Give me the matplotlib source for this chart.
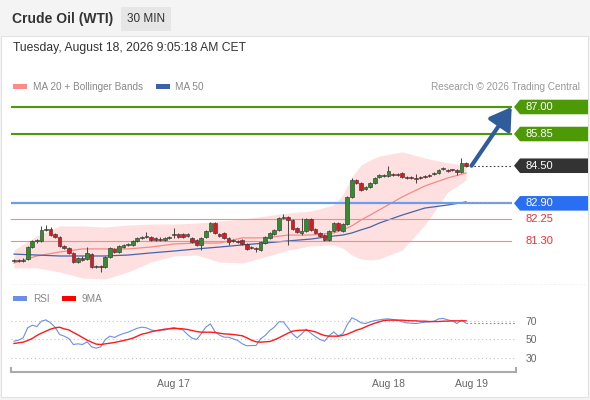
import numpy as np
import matplotlib.pyplot as plt
from matplotlib.patches import Rectangle, Polygon
from matplotlib.lines import Line2D

plt.rcParams['font.family'] = ['Liberation Sans', 'DejaVu Sans']

W, H = 590, 400

# 30 min candles, Crude Oil (WTI)
opens = [80.45, 80.49, 80.45, 80.53, 81.04, 81.30, 81.30, 81.77, 81.81, 81.60,
         81.47, 81.09, 81.00, 80.79, 80.40, 80.57, 80.53, 80.74, 80.19, 80.23,
         80.19, 80.62, 80.96, 80.83, 81.04, 81.13, 81.13, 81.30, 81.43, 81.47,
         81.47, 81.43, 81.38, 81.34, 81.43, 81.55, 81.60, 81.60, 81.51, 81.43,
         81.34, 81.13, 81.47, 81.72, 82.06, 81.60, 81.64, 81.43, 81.34, 81.30,
         81.34, 81.17, 81.00, 81.00, 80.91, 81.21, 81.43, 81.60, 81.77, 82.28,
         82.32, 82.19, 81.85, 81.64, 81.72, 82.23, 81.81, 81.64, 81.55, 81.34,
         81.72, 82.06, 81.72, 82.02, 83.17, 83.89, 83.77, 83.51, 83.60, 83.77,
         84.02, 84.06, 84.06, 84.15, 84.15, 84.19, 84.02, 84.02, 83.98, 84.02,
         84.06, 84.11, 84.15, 84.19, 84.36, 84.32, 84.32, 84.32, 84.23, 84.62]
closes = [80.49, 80.45, 80.49, 81.04, 81.30, 81.34, 81.77, 81.81, 81.55, 81.47,
          81.09, 81.00, 80.79, 80.40, 80.57, 80.49, 80.79, 80.19, 80.23, 80.19,
          80.62, 81.00, 80.83, 81.09, 81.13, 81.17, 81.30, 81.43, 81.47, 81.51,
          81.34, 81.34, 81.34, 81.43, 81.47, 81.60, 81.47, 81.47, 81.60, 81.26,
          81.13, 81.43, 81.72, 82.06, 81.64, 81.51, 81.43, 81.26, 81.30, 81.26,
          81.17, 80.96, 81.04, 80.96, 81.26, 81.47, 81.64, 81.77, 82.28, 82.32,
          82.19, 81.81, 81.68, 81.72, 82.23, 81.77, 81.64, 81.51, 81.34, 81.72,
          82.06, 81.77, 82.02, 83.17, 83.89, 83.77, 83.47, 83.60, 83.77, 83.98,
          84.11, 84.11, 84.28, 84.11, 84.11, 84.02, 83.98, 83.98, 83.94, 83.98,
          84.02, 84.06, 84.19, 84.32, 84.40, 84.28, 84.30, 84.23, 84.62, 84.50]
highs = [80.53, 80.53, 80.57, 81.09, 81.34, 81.38, 81.94, 81.98, 81.89, 81.64,
         81.51, 81.13, 81.04, 80.83, 80.62, 80.66, 81.04, 80.79, 80.28, 80.28,
         80.66, 81.04, 81.00, 81.13, 81.17, 81.21, 81.34, 81.47, 81.51, 81.68,
         81.51, 81.47, 81.47, 81.47, 81.51, 81.85, 81.64, 81.64, 81.64, 81.47,
         81.38, 81.47, 81.77, 82.11, 82.11, 81.64, 81.68, 81.47, 81.38, 81.34,
         81.38, 81.21, 81.09, 81.04, 81.30, 81.51, 81.68, 81.81, 82.32, 82.45,
         82.36, 82.23, 81.89, 82.28, 82.28, 82.28, 81.85, 81.68, 81.60, 81.77,
         82.11, 82.11, 82.06, 83.21, 83.98, 83.94, 83.81, 83.64, 83.81, 84.02,
         84.15, 84.15, 84.49, 84.19, 84.19, 84.23, 84.06, 84.06, 84.15, 84.06,
         84.11, 84.15, 84.23, 84.36, 84.45, 84.36, 84.36, 84.36, 84.83, 84.66]
lows = [80.40, 80.40, 80.40, 80.49, 81.00, 81.21, 81.26, 81.72, 81.51, 81.43,
        81.04, 80.96, 80.74, 80.36, 80.36, 80.45, 80.49, 80.15, 80.15, 79.98,
        80.15, 80.57, 80.79, 80.79, 81.00, 81.09, 81.09, 81.26, 81.38, 81.43,
        81.30, 81.30, 81.30, 81.30, 81.40, 81.43, 81.43, 81.43, 81.47, 81.21,
        81.09, 80.91, 81.43, 81.68, 81.60, 81.47, 81.38, 81.13, 81.26, 81.21,
        81.13, 80.91, 80.96, 80.83, 80.87, 81.17, 81.38, 81.55, 81.72, 82.23,
        81.13, 81.77, 81.64, 81.55, 81.68, 81.72, 81.60, 81.47, 81.30, 81.30,
        81.68, 81.72, 81.68, 81.98, 83.13, 83.72, 83.43, 83.47, 83.55, 83.72,
        83.98, 84.02, 84.02, 84.06, 84.06, 83.98, 83.94, 83.94, 83.77, 83.94,
        83.98, 84.02, 84.11, 84.15, 84.32, 84.23, 84.28, 84.11, 84.19, 84.45]

# MA 20 + Bollinger Bands and MA 50, read at these bar numbers
band_idx = [0, 5, 10, 15, 20, 25, 30, 35, 40, 45, 50, 55, 60, 65, 70, 72,
            74, 76, 78, 80, 85, 90, 95, 99]
bb_upper = [80.91, 81.51, 81.94, 81.94, 81.89, 81.98, 82.02, 82.02, 82.06, 82.15,
            82.23, 82.36, 82.49, 82.57, 82.83, 83.26, 84.02, 84.53, 84.74, 84.91,
            85.09, 84.83, 84.62, 84.53]
bb_lower = [80.15, 80.15, 79.98, 79.72, 79.68, 79.98, 80.40, 80.66, 80.70, 80.40,
            80.36, 80.62, 80.91, 81.09, 81.13, 81.00, 80.70, 80.53, 80.49, 80.53,
            80.91, 81.98, 83.38, 83.89]
ma20 = [80.36, 80.66, 80.83, 80.96, 80.96, 80.96, 81.04, 81.17, 81.21, 81.21,
        81.43, 81.43, 81.55, 81.55, 81.64, 81.77, 81.94, 82.19, 82.40, 82.62,
        83.17, 83.64, 83.98, 84.19]
ma50 = [80.74, 80.70, 80.66, 80.66, 80.66, 80.70, 80.79, 80.87, 80.96, 81.04,
        81.13, 81.21, 81.30, 81.38, 81.51, 81.55, 81.64, 81.77, 81.89, 82.06,
        82.40, 82.70, 82.83, 82.96]

rsi = [48.2, 49.3, 51.8, 62.6, 65.5, 64.0, 69.8, 71.2, 68.0, 63.3,
       55.4, 53.6, 51.1, 44.6, 45.3, 44.6, 47.5, 42.1, 40.6, 42.1,
       50.0, 53.6, 52.2, 54.7, 56.5, 57.9, 60.1, 62.2, 63.3, 62.6,
       60.4, 59.4, 60.4, 60.1, 61.9, 63.0, 61.5, 60.4, 55.4, 51.4,
       50.0, 56.1, 63.3, 66.9, 58.6, 54.7, 52.5, 52.5, 50.7, 48.9,
       45.3, 43.2, 43.5, 43.5, 50.7, 54.3, 59.7, 63.3, 69.1, 69.1,
       62.6, 56.1, 51.8, 56.1, 61.2, 56.8, 53.2, 50.0, 48.2, 54.0,
       58.3, 54.0, 56.1, 66.2, 73.4, 71.2, 68.0, 67.3, 69.1, 70.5,
       71.2, 72.0, 72.3, 71.6, 70.9, 69.1, 68.0, 67.6, 67.3, 68.0,
       68.7, 69.1, 69.8, 72.3, 72.7, 71.2, 70.2, 67.3, 70.9, 67.6]
rsi_ma = [45.7, 46.4, 47.1, 48.9, 51.1, 54.3, 56.8, 59.0, 61.2, 62.6,
          63.3, 61.5, 60.4, 57.6, 55.0, 52.2, 49.3, 47.1, 45.0, 44.6,
          45.3, 46.0, 46.8, 47.8, 48.9, 50.0, 51.4, 53.6, 55.8, 56.8,
          58.3, 59.4, 60.1, 61.2, 61.5, 61.9, 61.9, 61.5, 60.8, 59.7,
          58.6, 57.9, 57.9, 57.9, 57.6, 56.8, 56.1, 55.8, 55.4, 54.7,
          54.0, 51.8, 49.3, 47.5, 47.1, 47.5, 47.8, 49.6, 51.8, 54.3,
          56.8, 59.0, 59.7, 60.1, 60.1, 59.4, 58.3, 56.1, 54.3, 53.6,
          53.6, 53.6, 54.3, 55.8, 57.9, 60.1, 61.5, 63.7, 65.8, 67.6,
          69.1, 70.5, 70.9, 70.9, 70.9, 70.9, 70.5, 70.2, 70.2, 69.8,
          69.8, 69.4, 69.4, 69.4, 69.8, 69.8, 70.2, 70.2, 70.2, 70.2]

levels = [87.00, 85.85, 84.50, 82.90, 82.25, 81.30]
level_kind = ['target', 'target', 'last', 'pivot', 'support', 'support']

date_ticks = [35.0, 82.1, 100.1]
date_labels = ['Aug 17', 'Aug 18', 'Aug 19']
rsi_levels = [30, 50, 70]

GREEN = '#4e9a06'
BLUE = '#2a6ef2'
DARK = '#333333'
RED = '#f03030'


def fr(x, y, w, h):
    # pixel box (top-left origin) -> figure fraction
    return [x / W, 1 - (y + h) / H, w / W, h / H]


fig = plt.figure(figsize=(W / 100, H / 100), dpi=100)
fig.patch.set_facecolor('#f4f4f4')
fig.add_artist(Rectangle((1 / W, 1 - 397 / H), 587 / W, 361 / H, transform=fig.transFigure,
                         facecolor='white', edgecolor='#e2e2e2', lw=0.8, zorder=0))

# header
fig.add_artist(Rectangle((121 / W, 1 - 31 / H), 50 / W, 24 / H, transform=fig.transFigure,
                         facecolor='#e6e6e6', edgecolor='none'))
fig.text(12 / W, 1 - 19 / H, 'Crude Oil (WTI)', fontsize=10, fontweight='bold',
         color='#333333', va='center')
fig.text(146 / W, 1 - 19 / H, '30 MIN', fontsize=8.5, color='#333333', ha='center', va='center')
fig.text(13 / W, 1 - 48 / H, 'Tuesday, August 18, 2026 9:05:18 AM CET', fontsize=8.7,
         color='#333333', va='center')

# legends
for x0, col, label, tx in [(13, '#ff8a8a', 'MA 20 + Bollinger Bands', 33),
                           (156, '#3b62a6', 'MA 50', 175)]:
    fig.add_artist(Rectangle((x0 / W, 1 - 89 / H), 14 / W, 5 / H, transform=fig.transFigure,
                             facecolor=col, edgecolor='none'))
    fig.text(tx / W, 1 - 86.5 / H, label, fontsize=7.2, color='#888888', va='center')
fig.text(580 / W, 1 - 86.5 / H, 'Research \u00a9 2026 Trading Central', fontsize=7.2,
         color='#999999', va='center', ha='right')

for x0, col, label, tx in [(13, '#6a8ee8', 'RSI', 33), (62, '#ff0000', '9MA', 82)]:
    fig.add_artist(Rectangle((x0 / W, 1 - 301 / H), 14 / W, 5 / H, transform=fig.transFigure,
                             facecolor=col, edgecolor='none'))
    fig.text(tx / W, 1 - 298.5 / H, label, fontsize=7.2, color='#888888', va='center')

fig.add_artist(Line2D([11 / W, 585 / W], [1 - 284 / H] * 2, transform=fig.transFigure,
                      color='#e6e6e6', lw=0.6, ls=(0, (1, 2))))

# price panel
ylim = (79.51, 87.51)
ax = fig.add_axes(fr(11, 95, 501, 188))
ax.set_xlim(-0.657, 109.07)
ax.set_ylim(*ylim)
ax.axis('off')

x = np.arange(len(opens))
o = np.array(opens)
c = np.array(closes)
up = c >= o
ax.fill_between(band_idx, bb_lower, bb_upper, color='#ffe0e0', lw=0, zorder=1)
ax.plot(band_idx, ma20, color='#f58a8a', lw=0.9, zorder=2)
ax.plot(band_idx, ma50, color='#4565a8', lw=0.9, zorder=2)

for lv, kind in zip(levels, level_kind):
    if kind == 'target':
        ax.axhline(lv, color=GREEN, lw=1.5, zorder=2)
    elif kind == 'pivot':
        ax.axhline(lv, color='#6b9cf0', lw=1.6, zorder=2)
    elif kind == 'support':
        ax.axhline(lv, color='#f28b8b', lw=0.8, zorder=2)

ax.vlines(x, lows, highs, color='#4a4a4a', lw=0.75, zorder=3)
ax.bar(x, np.maximum(np.abs(c - o), 0.04), bottom=np.minimum(o, c), width=0.8,
       color=np.where(up, '#2f8f2f', '#e8141c'), edgecolor='#3a3a3a', linewidth=0.45, zorder=4)

xr = ax.get_xlim()[1]
ax.plot([x[-1], xr], [closes[-1]] * 2, color='#444444', lw=0.8, ls=(0, (1.5, 2)), zorder=3)
ax.plot([band_idx[-1], xr], [ma50[-1]] * 2, color='#99a6c4', lw=0.8, ls=(0, (1.5, 2)), zorder=3)

ax.annotate('', xy=(109.0, levels[0]), xytext=(100.2, closes[-1]),
            arrowprops=dict(arrowstyle='-|>,head_width=0.5,head_length=0.8', lw=3,
                            color='#2f5d9b', shrinkA=0, shrinkB=0, mutation_scale=16),
            zorder=6, annotation_clip=False)

# level tags
tax = fig.add_axes(fr(512, 95, 78, 188))
tax.set_xlim(0, 78)
tax.set_ylim(*ylim)
tax.axis('off')
hh = 0.31
tag_col = {'target': GREEN, 'last': DARK, 'pivot': BLUE}
for lv, kind in zip(levels, level_kind):
    if kind in tag_col:
        tax.add_patch(Polygon([(2, lv), (8, lv + hh), (76, lv + hh), (76, lv - hh), (8, lv - hh)],
                              closed=True, facecolor=tag_col[kind], edgecolor='none'))
        tax.text(13, lv, f'{lv:.2f}', color='white', fontsize=8, va='center', ha='left')
    else:
        tax.text(13, lv, f'{lv:.2f}', color=RED, fontsize=8, va='center', ha='left')

# RSI panel
rax = fig.add_axes(fr(11, 308, 505, 64))
rax.set_xlim(-0.657, 109.94)
rax.set_ylim(14.86, 84.05)
rax.patch.set_alpha(0)
for s in ['top', 'left', 'right']:
    rax.spines[s].set_visible(False)
rax.spines['bottom'].set_color('#aaaaaa')
rax.spines['bottom'].set_linewidth(1.5)
for xe in (0, 1):
    rax.plot([xe, xe], [0, 0.08], transform=rax.transAxes, color='#aaaaaa', lw=1.5,
             clip_on=False, solid_capstyle='butt')
for lv in rsi_levels:
    rax.axhline(lv, color='#c4c4c4', lw=0.8, ls=(0, (1, 2.5)))
rax.plot(x, rsi, color='#6d8fe6', lw=0.8)
rax.plot(x, rsi_ma, color='#ff1a1a', lw=1.0)
rax.plot([x[-1], rax.get_xlim()[1]], [rsi[-1]] * 2, color='#6d8fe6', lw=0.8, ls=(0, (1.5, 2)))
rax.yaxis.tick_right()
rax.set_yticks(rsi_levels)
rax.tick_params(axis='y', length=0, pad=7, labelsize=7.5, labelcolor='#666666')
rax.set_xticks(date_ticks, date_labels)
rax.tick_params(axis='x', length=0, pad=5, labelsize=7.5, labelcolor='#666666')

fig.savefig('out.png', dpi=100)
